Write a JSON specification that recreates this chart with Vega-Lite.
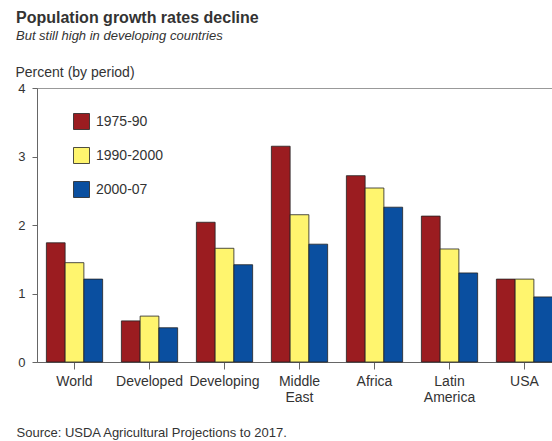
{
  "$schema": "https://vega.github.io/schema/vega-lite/v6.json",
  "autosize": "none",
  "width": 525,
  "height": 274,
  "padding": {"left": 37, "top": 88, "right": 0, "bottom": 79},
  "background": "white",
  "title": {
    "text": "Population growth rates decline",
    "subtitle": "But still high in developing countries",
    "anchor": "start",
    "frame": "group",
    "dx": -21,
    "offset": 22,
    "font": "Liberation Sans",
    "fontSize": 16,
    "fontWeight": "bold",
    "color": "#333333",
    "subtitleFont": "Liberation Sans",
    "subtitleFontSize": 13,
    "subtitleFontStyle": "italic",
    "subtitleColor": "#333333",
    "subtitlePadding": 4
  },
  "data": {
    "values": [
      {"region": "World", "period": "1975-90", "value": 1.74},
      {"region": "World", "period": "1990-2000", "value": 1.45},
      {"region": "World", "period": "2000-07", "value": 1.21},
      {"region": "Developed", "period": "1975-90", "value": 0.6},
      {"region": "Developed", "period": "1990-2000", "value": 0.67},
      {"region": "Developed", "period": "2000-07", "value": 0.5},
      {"region": "Developing", "period": "1975-90", "value": 2.04},
      {"region": "Developing", "period": "1990-2000", "value": 1.66},
      {"region": "Developing", "period": "2000-07", "value": 1.42},
      {"region": "Middle East", "period": "1975-90", "value": 3.15},
      {"region": "Middle East", "period": "1990-2000", "value": 2.15},
      {"region": "Middle East", "period": "2000-07", "value": 1.72},
      {"region": "Africa", "period": "1975-90", "value": 2.72},
      {"region": "Africa", "period": "1990-2000", "value": 2.54},
      {"region": "Africa", "period": "2000-07", "value": 2.26},
      {"region": "Latin America", "period": "1975-90", "value": 2.13},
      {"region": "Latin America", "period": "1990-2000", "value": 1.65},
      {"region": "Latin America", "period": "2000-07", "value": 1.3},
      {"region": "USA", "period": "1975-90", "value": 1.21},
      {"region": "USA", "period": "1990-2000", "value": 1.21},
      {"region": "USA", "period": "2000-07", "value": 0.95}
    ]
  },
  "mark": {"type": "bar", "stroke": "#222222", "strokeWidth": 0.8},
  "encoding": {
    "x": {
      "field": "region",
      "type": "nominal",
      "sort": null,
      "scale": {"paddingInner": 0.25, "paddingOuter": 0.125},
      "axis": {
        "title": "Source: USDA Agricultural Projections to 2017.",
        "titleAnchor": "start",
        "titleAlign": "left",
        "titleBaseline": "alphabetic",
        "titleX": -21,
        "titleY": 74,
        "titleFont": "Liberation Sans",
        "titleFontSize": 13,
        "titleFontWeight": "normal",
        "titleColor": "#333333",
        "labelAngle": 0,
        "labelExpr": "split(datum.label, ' ')",
        "labelFont": "Liberation Sans",
        "labelFontSize": 14,
        "labelColor": "#333333",
        "labelPadding": 5,
        "labelLineHeight": 16,
        "tickSize": 7,
        "tickColor": "#666666",
        "domainColor": "#666666"
      }
    },
    "xOffset": {"field": "period", "type": "nominal", "sort": null},
    "y": {
      "field": "value",
      "type": "quantitative",
      "scale": {"domain": [0, 4], "nice": false},
      "axis": {
        "title": "Percent (by period)",
        "titleAngle": 0,
        "titleAlign": "left",
        "titleBaseline": "alphabetic",
        "titleX": -22,
        "titleY": -12,
        "titleFont": "Liberation Sans",
        "titleFontSize": 14,
        "titleFontWeight": "normal",
        "titleColor": "#333333",
        "values": [0, 1, 2, 3, 4],
        "grid": false,
        "labelFont": "Liberation Sans",
        "labelFontSize": 13,
        "labelColor": "#333333",
        "labelPadding": 7,
        "tickSize": 5,
        "tickColor": "#666666",
        "domainColor": "#666666"
      }
    },
    "fill": {
      "field": "period",
      "type": "nominal",
      "sort": null,
      "scale": {"domain": ["1975-90", "1990-2000", "2000-07"], "range": ["#9B1C20", "#FFF56E", "#0A4FA0"]},
      "legend": {
        "title": null,
        "orient": "none",
        "legendX": 36,
        "legendY": 25,
        "symbolType": "square",
        "symbolSize": 256,
        "symbolStrokeColor": "#222222",
        "symbolStrokeWidth": 0.8,
        "rowPadding": 13,
        "labelFont": "Liberation Sans",
        "labelFontSize": 14,
        "labelColor": "#333333",
        "labelOffset": 6
      }
    }
  },
  "config": {
    "view": {"stroke": "#999999", "strokeWidth": 1}
  }
}
